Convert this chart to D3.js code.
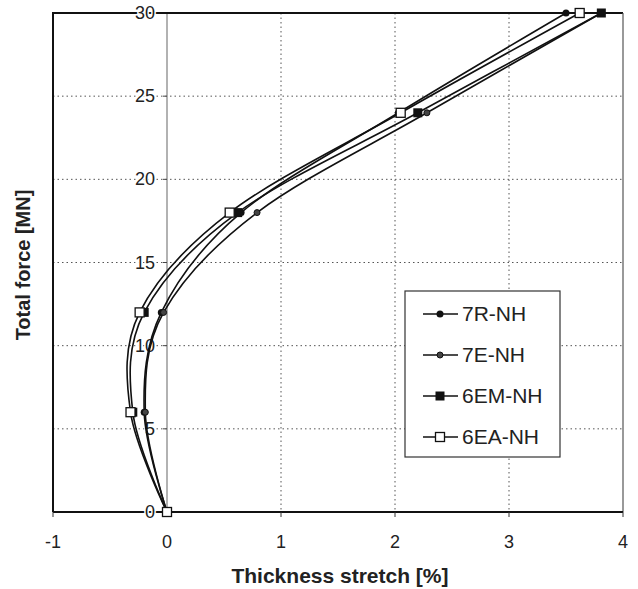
<!DOCTYPE html>
<html lang="en">
<head>
  <meta charset="utf-8">
  <title>Total force vs thickness stretch</title>
  <script src="https://d3js.org/d3.v7.min.js"></script>
  <style>
    body {
      margin: 0;
      background: #ffffff;
      font-family: "Liberation Sans", Arial, Helvetica, sans-serif;
    }
    .grid line {
      stroke: #555;
      stroke-width: 1px;
      stroke-dasharray: 1.5,3;
    }
    .tick-label {
      font-size: 18px;
      fill: #222;
    }
    .axis-title {
      font-size: 21px;
      font-weight: bold;
      fill: #222;
    }
    .legend-label {
      font-size: 21px;
      fill: #222;
    }
    path.series {
      fill: none;
      stroke: #111;
      stroke-width: 1.6px;
    }
  </style>
</head>
<body>
<script>
// force levels (MN) shared by every series
var forces = [0, 6, 12, 18, 24, 30];

// thickness stretch (%)
var seriesNames = ["7R-NH", "7E-NH", "6EM-NH", "6EA-NH"];
var stretch7R  = [0, -0.20, -0.05, 0.65, 2.03, 3.50];
var stretch7E  = [0, -0.19, -0.03, 0.79, 2.28, 3.81];
var stretch6EM = [0, -0.30, -0.20, 0.62, 2.20, 3.81];
var stretch6EA = [0, -0.32, -0.24, 0.55, 2.05, 3.62];

var xTicks = [-1, 0, 1, 2, 3, 4];
var yTicks = [0, 5, 10, 15, 20, 25, 30];

var width = 638, height = 589;
var plotLeft = 53, plotRight = 623, plotTop = 13, plotBottom = 512;

var x = d3.scaleLinear().domain([-1, 4]).range([plotLeft, plotRight]);
var y = d3.scaleLinear().domain([0, 30]).range([plotBottom, plotTop]);

var svg = d3.select("body").append("svg")
    .attr("width", width)
    .attr("height", height);

// dotted grid
var grid = svg.append("g").attr("class", "grid");
grid.selectAll("line.h")
    .data(yTicks.filter(d => d > 0 && d < 30))
    .enter().append("line")
    .attr("x1", plotLeft).attr("x2", plotRight)
    .attr("y1", d => y(d)).attr("y2", d => y(d));
grid.selectAll("line.v")
    .data([1, 2, 3])
    .enter().append("line")
    .attr("x1", d => x(d)).attr("x2", d => x(d))
    .attr("y1", plotTop).attr("y2", plotBottom);

// y axis sits at x = 0 (grey)
svg.append("line")
    .attr("x1", x(0)).attr("x2", x(0))
    .attr("y1", plotTop).attr("y2", plotBottom)
    .style("stroke", "#999").style("stroke-width", 1.5);
svg.append("g").selectAll("line")
    .data(yTicks)
    .enter().append("line")
    .attr("x1", x(0) - 4).attr("x2", x(0))
    .attr("y1", d => y(d)).attr("y2", d => y(d))
    .style("stroke", "#444");

// frame
svg.append("path")
    .attr("d", `M${plotLeft},${plotBottom}V${plotTop}H${plotRight}`)
    .style("fill", "none").style("stroke", "#111").style("stroke-width", 2);
svg.append("line")
    .attr("x1", plotRight).attr("x2", plotRight)
    .attr("y1", plotTop).attr("y2", plotBottom)
    .style("stroke", "#555").style("stroke-width", 1.2);
svg.append("line")
    .attr("x1", plotLeft).attr("x2", plotRight)
    .attr("y1", plotBottom).attr("y2", plotBottom)
    .style("stroke", "#111").style("stroke-width", 2);

// x ticks & labels
svg.append("g").selectAll("line")
    .data(xTicks)
    .enter().append("line")
    .attr("x1", d => x(d)).attr("x2", d => x(d))
    .attr("y1", plotBottom).attr("y2", plotBottom + 5)
    .style("stroke", "#333");
svg.append("g").selectAll("text")
    .data(xTicks)
    .enter().append("text")
    .attr("class", "tick-label")
    .attr("x", d => x(d))
    .attr("y", plotBottom + 36)
    .attr("text-anchor", "middle")
    .text(d => d);

// y labels, left of the x = 0 line
svg.append("g").selectAll("text")
    .data(yTicks)
    .enter().append("text")
    .attr("class", "tick-label")
    .attr("x", x(0) - 12)
    .attr("y", d => y(d) + 6)
    .attr("text-anchor", "end")
    .style("stroke", "#fff").style("stroke-width", 3).style("paint-order", "stroke")
    .text(d => d);

// axis titles
svg.append("text")
    .attr("class", "axis-title")
    .attr("x", 340).attr("y", 583)
    .attr("text-anchor", "middle")
    .text("Thickness stretch [%]");
svg.append("text")
    .attr("class", "axis-title")
    .style("font-size", "20px")
    .attr("transform", "translate(30,265) rotate(-90)")
    .attr("text-anchor", "middle")
    .text("Total force [MN]");

// series
var series = [
  { name: seriesNames[0], values: stretch7R,  marker: "dot" },
  { name: seriesNames[1], values: stretch7E,  marker: "smalldot" },
  { name: seriesNames[2], values: stretch6EM, marker: "fillsq" },
  { name: seriesNames[3], values: stretch6EA, marker: "opensq" }
];

var line = d3.line()
    .x(d => x(d[0]))
    .y(d => y(d[1]))
    .curve(d3.curveCatmullRom.alpha(0));

function drawMarker(g, type) {
  if (type === "dot") {
    g.append("circle").attr("r", 3.5).style("fill", "#111");
  } else if (type === "smalldot") {
    g.append("circle").attr("r", 3).style("fill", "#444").style("stroke", "#111").style("stroke-width", 1);
  } else if (type === "fillsq") {
    g.append("rect").attr("x", -4.5).attr("y", -4.5).attr("width", 9).attr("height", 9).style("fill", "#111");
  } else {
    g.append("rect").attr("x", -4.5).attr("y", -4.5).attr("width", 9).attr("height", 9)
      .style("fill", "#fff").style("stroke", "#111").style("stroke-width", 1.3);
  }
}

series.forEach(function(s) {
  var pts = s.values.map((v, i) => [v, forces[i]]);
  svg.append("path").attr("class", "series").attr("d", line(pts));
});
series.forEach(function(s) {
  s.values.forEach(function(v, i) {
    var g = svg.append("g").attr("transform", `translate(${x(v)},${y(forces[i])})`);
    drawMarker(g, s.marker);
  });
});

// legend
var legend = svg.append("g");
legend.append("rect")
    .attr("x", 405).attr("y", 291).attr("width", 155).attr("height", 166)
    .style("fill", "#fff").style("stroke", "#333").style("stroke-width", 1.2);
series.forEach(function(s, i) {
  var ly = 314 + i * 41;
  legend.append("line")
      .attr("x1", 423).attr("x2", 458).attr("y1", ly).attr("y2", ly)
      .style("stroke", "#111").style("stroke-width", 1.6);
  var g = legend.append("g").attr("transform", `translate(440,${ly})`);
  drawMarker(g, s.marker);
  legend.append("text")
      .attr("class", "legend-label")
      .attr("x", 462).attr("y", ly + 7)
      .text(s.name);
});
</script>
</body>
</html>
